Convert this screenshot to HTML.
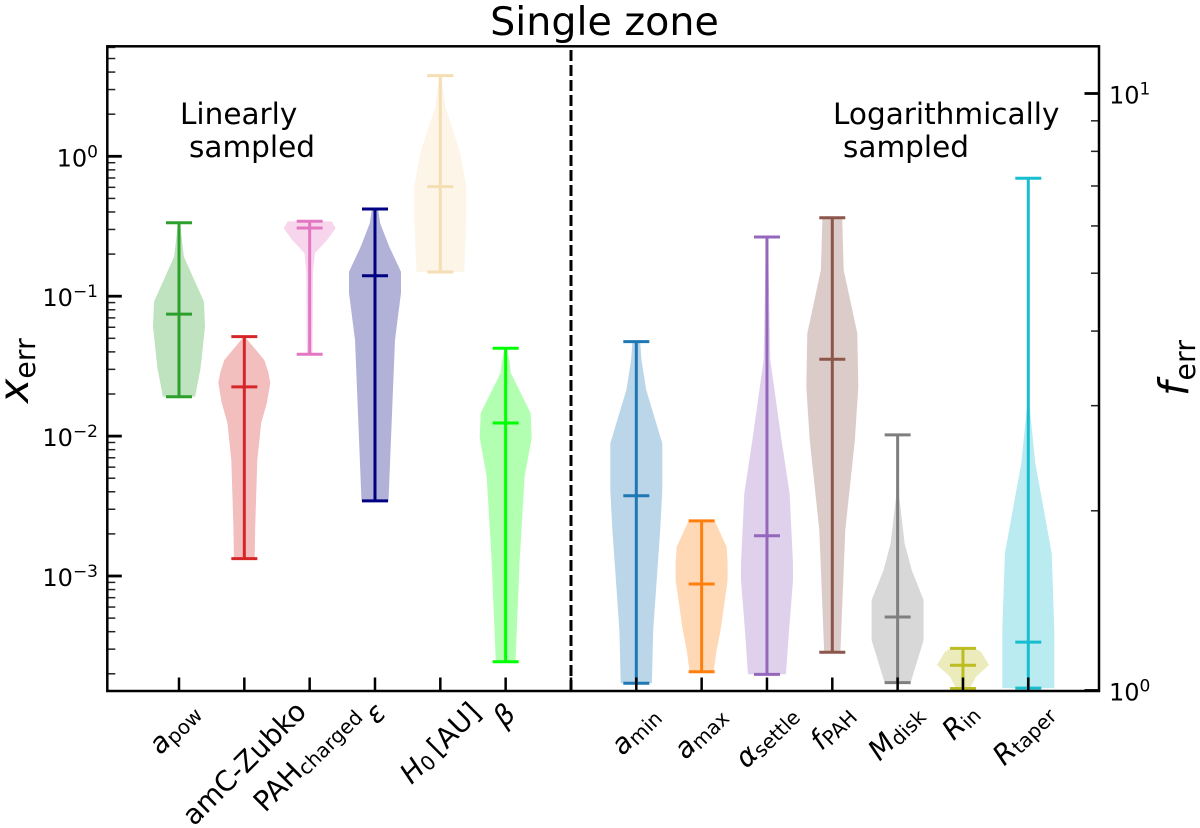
<!DOCTYPE html>
<html lang="en">
<head>
<meta charset="utf-8">
<title>Single zone</title>
<style>
html,body{margin:0;padding:0;background:#fff;}
svg{display:block;font-family:"DejaVu Sans","Liberation Sans",sans-serif;}
text{fill:#000;}
</style>
</head>
<body>
<svg id="chart" xmlns="http://www.w3.org/2000/svg" width="1200" height="828" viewBox="0 0 1200 828">
  <rect x="0" y="0" width="1200" height="828" fill="#fff"/>
  <text x="604.5" y="35" font-size="39.6" text-anchor="middle">Single zone</text>
  <g id="violins"></g>
  <g id="axes"></g>
  <line x1="571" y1="691" x2="571" y2="46" stroke="#000" stroke-width="3" stroke-dasharray="11 4"/>
  <rect x="107.3" y="46.3" width="991.7" height="644.7" fill="none" stroke="#000" stroke-width="2.5"/>

  <text x="180" y="124" font-size="29.5">Linearly</text>
  <text x="189" y="157" font-size="29.5">sampled</text>
  <text x="833" y="124" font-size="29.5">Logarithmically</text>
  <text x="843" y="157" font-size="29.5">sampled</text>

  <text transform="translate(28,403) rotate(-90)" font-size="41"><tspan font-style="italic">x</tspan><tspan font-size="28.5" dy="7">err</tspan></text>
  <text transform="translate(1188,396) rotate(-90)" font-size="41"><tspan font-style="italic">f</tspan><tspan font-size="28.5" dy="7" dx="1">err</tspan></text>

  <g id="x-labels" font-size="28" text-anchor="middle">
    <text transform="translate(174,728) rotate(-45)" dy=".35em"><tspan font-style="italic">a</tspan><tspan font-size="20" dy="3">pow</tspan></text>
    <text transform="translate(244,763) rotate(-45)" dy=".35em">amC-Zubko</text>
    <text transform="translate(306.5,758) rotate(-45)" dy=".35em">PAH<tspan font-size="20" dy="3">charged</tspan></text>
    <text transform="translate(375,713) rotate(-45)" dy=".35em"><tspan font-style="italic">ε</tspan></text>
    <text transform="translate(440,742.7) rotate(-45)" dy=".35em"><tspan font-style="italic">H</tspan><tspan font-size="20" dy="3">0</tspan><tspan dy="-3" dx="5">[AU]</tspan></text>
    <text transform="translate(504,715) rotate(-45)" dy=".35em"><tspan font-style="italic">β</tspan></text>
    <text transform="translate(635,730) rotate(-45)" dy=".35em"><tspan font-style="italic">a</tspan><tspan font-size="20" dy="3">min</tspan></text>
    <text transform="translate(700,732) rotate(-45)" dy=".35em"><tspan font-style="italic">a</tspan><tspan font-size="20" dy="3">max</tspan></text>
    <text transform="translate(766,736) rotate(-45)" dy=".35em"><tspan font-style="italic">α</tspan><tspan font-size="20" dy="3">settle</tspan></text>
    <text transform="translate(832,727) rotate(-45)" dy=".35em"><tspan font-style="italic">f</tspan><tspan font-size="20" dy="3">PAH</tspan></text>
    <text transform="translate(895.5,732) rotate(-45)" dy=".35em"><tspan font-style="italic">M</tspan><tspan font-size="20" dy="3">disk</tspan></text>
    <text transform="translate(960,721) rotate(-45)" dy=".35em"><tspan font-style="italic">R</tspan><tspan font-size="20" dy="3">in</tspan></text>
    <text transform="translate(1023,734) rotate(-45)" dy=".35em"><tspan font-style="italic">R</tspan><tspan font-size="20" dy="3">taper</tspan></text>
  </g>
</svg>
<script>
// ---- chart data ----
const categories = ['a_pow','amC-Zubko','PAH_charged','epsilon','H0','beta','a_min','a_max','alpha_settle','f_PAH','M_disk','R_in','R_taper'];
// slot on the x axis (slot 7 holds the dashed divider)
const slots = [1,2,3,4,5,6,8,9,10,11,12,13,14];
const colors = ['#2ca02c','#d62728','#e377c2','#000080','#f5deb3','#00ff00','#1f77b4','#ff7f0e','#9467bd','#8c564b','#7f7f7f','#bcbd22','#17becf'];
const highs = [0.335,0.0514,0.343,0.420,3.77,0.0425,0.0473,0.00248,0.265,0.364,0.0102,0.000304,0.697];
const medians = [0.0745,0.0225,0.307,0.140,0.607,0.0124,0.00375,0.000877,0.00194,0.0354,0.000509,0.00023,0.000337];
const lows = [0.0191,0.00133,0.0385,0.00344,0.149,0.000244,0.000171,0.000207,0.000198,0.000285,0.000173,0.000157,0.000158];
// violin outline: log10(x_err) sample levels and the normalised density at each level
const profileLog10 = [
  [-0.475,-0.718,-1.039,-1.218,-1.513,-1.718],
  [-1.289,-1.456,-1.542,-1.620,-1.763,-1.906,-2.171,-2.649,-2.876],
  [-0.465,-0.515,-0.598,-0.693,-0.834,-1.415],
  [-0.377,-0.479,-0.646,-0.825,-0.977,-1.313,-2.464],
  [0.576,0.355,0.024,-0.217,-0.405,-0.826],
  [-1.372,-1.456,-1.549,-1.835,-2.013,-2.290,-2.886,-3.613],
  [-1.325,-1.456,-1.670,-2.051,-2.385,-2.671,-3.386,-3.767],
  [-2.605,-2.791,-2.909,-3.029,-3.386,-3.529,-3.684],
  [-0.577,-1.456,-2.028,-2.409,-2.909,-3.029,-3.386,-3.703],
  [-0.439,-0.813,-1.265,-1.647,-2.028,-2.671,-3.545],
  [-1.990,-2.433,-2.766,-2.957,-3.172,-3.458,-3.763],
  [-3.517,-3.541,-3.636,-3.720,-3.803],
  [-0.157,-1.766,-2.194,-2.838,-3.386,-3.801]
];
const profileDensity = [
  [0.04,0.19,0.96,1,0.83,0.62],
  [0.02,0.77,0.92,1,0.87,0.65,0.5,0.42,0.40],
  [0.85,1,0.67,0.2,0.13,0.11],
  [0.12,0.2,0.55,1,1,0.77,0.52],
  [0.04,0.19,0.77,1,1,0.92],
  [0.04,0.14,0.2,0.96,1,0.73,0.54,0.38],
  [0.15,0.2,0.38,1,1,0.92,0.65,0.6],
  [0.5,0.96,1,1,0.73,0.58,0.46],
  [0.04,0.13,0.56,0.87,1,1,0.85,0.73],
  [0.38,0.44,0.96,1,0.87,0.5,0.31],
  [0.02,0.06,0.27,0.54,1,1,0.5],
  [0.46,0.69,1,0.5,0.27],
  [0.02,0.04,0.27,0.9,1,1]
];
const leftTickExponents = [-3,-2,-1,0];
const leftTickLabels = ['\u22123','\u22122','\u22121','0'];
const rightTickExponents = [0,1];
const rightTickLabels = ['0','1'];

// ---- axis functions ----
const LEFT_DOMAIN = [-3.822, 0.788];
const RIGHT_DOMAIN = [0, 1];
const PLOT = {left:107.3, right:1099, top:46.3, bottom:691};
function yLeft(v){ return 156.3 - 139.9 * Math.log10(v); }
function yRight(v){ return 690.5 - 597 * Math.log10(v); }
function xAt(slot){ return 113.67 + 65.33 * slot; }

const NS = 'http://www.w3.org/2000/svg';
function mk(tag, attrs, parent){
  const el = document.createElementNS(NS, tag);
  for (const k in attrs) el.setAttribute(k, attrs[k]);
  parent.appendChild(el);
  return el;
}
function tickLine(parent, x1, y1, x2, y2, w, color){
  return mk('line', {x1:x1, y1:y1, x2:x2, y2:y2, stroke:color, 'stroke-width':w}, parent);
}

// ---- violins ----
const violinsG = document.getElementById('violins');
const MAX_HALF_WIDTH = 26;
const CAP_HALF_WIDTH = 13;
const LINE_W = 3;
categories.forEach(function(name, i){
  const x = xAt(slots[i]);
  const g = mk('g', {}, violinsG);
  
  
  const levels = profileLog10[i];
  const dens = profileDensity[i];
  const rightSide = levels.map(function(l, j){ return (x + dens[j] * MAX_HALF_WIDTH).toFixed(1) + ',' + yLeft(Math.pow(10, l)).toFixed(1); });
  const leftSide = levels.map(function(l, j){ return (x - dens[j] * MAX_HALF_WIDTH).toFixed(1) + ',' + yLeft(Math.pow(10, l)).toFixed(1); }).reverse();
  const body = mk('polygon', {points:rightSide.concat(leftSide).join(' '), fill:colors[i], 'fill-opacity':0.3, stroke:'none'}, g);
  
  
  const stem = mk('line', {x1:x, x2:x, y1:yLeft(highs[i]), y2:yLeft(lows[i]), stroke:colors[i], 'stroke-width':LINE_W}, g);
  
  
  const capHigh = mk('line', {x1:x-CAP_HALF_WIDTH, x2:x+CAP_HALF_WIDTH, y1:yLeft(highs[i]), y2:yLeft(highs[i]), stroke:colors[i], 'stroke-width':LINE_W}, g);
  
  
  const capMed = mk('line', {x1:x-CAP_HALF_WIDTH, x2:x+CAP_HALF_WIDTH, y1:yLeft(medians[i]), y2:yLeft(medians[i]), stroke:colors[i], 'stroke-width':LINE_W}, g);
  
  
  const capLow = mk('line', {x1:x-CAP_HALF_WIDTH, x2:x+CAP_HALF_WIDTH, y1:yLeft(lows[i]), y2:yLeft(lows[i]), stroke:colors[i], 'stroke-width':LINE_W}, g);
  
  
});

// ---- axes ----
const axesG = document.getElementById('axes');
const MAJOR = 14.5, MINOR = 8;

// bottom ticks
slots.forEach(function(s){
  const t = tickLine(axesG, xAt(s), PLOT.bottom, xAt(s), PLOT.bottom - 13.5, 2.5, '#000');
  
  
});
const dividerTick = tickLine(axesG, xAt(7), PLOT.bottom, xAt(7), PLOT.bottom - 13.5, 2.5, '#000');



// left axis
for (let d = Math.floor(LEFT_DOMAIN[0]); d <= Math.ceil(LEFT_DOMAIN[1]); d++){
  for (let m = 2; m <= 9; m++){
    const lv = d + Math.log10(m);
    if (lv < LEFT_DOMAIN[0] || lv > LEFT_DOMAIN[1]) continue;
    const y = yLeft(Math.pow(10, lv));
    const t = tickLine(axesG, PLOT.left, y, PLOT.left + MINOR, y, 1.5, '#222');
    
    
  }
}
leftTickExponents.forEach(function(e, i){
  const y = yLeft(Math.pow(10, e));
  const t = tickLine(axesG, PLOT.left, y, PLOT.left + MAJOR, y, 2.8, '#000');
  
  
  const label = mk('text', {x:98, y:y + 10, 'font-size':24, 'text-anchor':'end'}, axesG);
  
  
  const base = mk('tspan', {}, label);
  base.textContent = '10';
  const sup = mk('tspan', {'font-size':17, dy:-9}, label);
  sup.textContent = leftTickLabels[i];
});

// right axis
for (let d = RIGHT_DOMAIN[0]; d < RIGHT_DOMAIN[1]; d++){
  for (let m = 2; m <= 9; m++){
    const y = yRight(Math.pow(10, d + Math.log10(m)));
    const t = tickLine(axesG, PLOT.right, y, PLOT.right - MINOR, y, 1.5, '#222');
    
    
  }
}
rightTickExponents.forEach(function(e, i){
  const y = yRight(Math.pow(10, e));
  const t = tickLine(axesG, PLOT.right, y, PLOT.right - MAJOR, y, 2.8, '#000');
  
  
  const label = mk('text', {x:1109, y:y + 10, 'font-size':24}, axesG);
  
  
  const base = mk('tspan', {}, label);
  base.textContent = '10';
  const sup = mk('tspan', {'font-size':17, dy:-9}, label);
  sup.textContent = rightTickLabels[i];
});
</script>
</body>
</html>
